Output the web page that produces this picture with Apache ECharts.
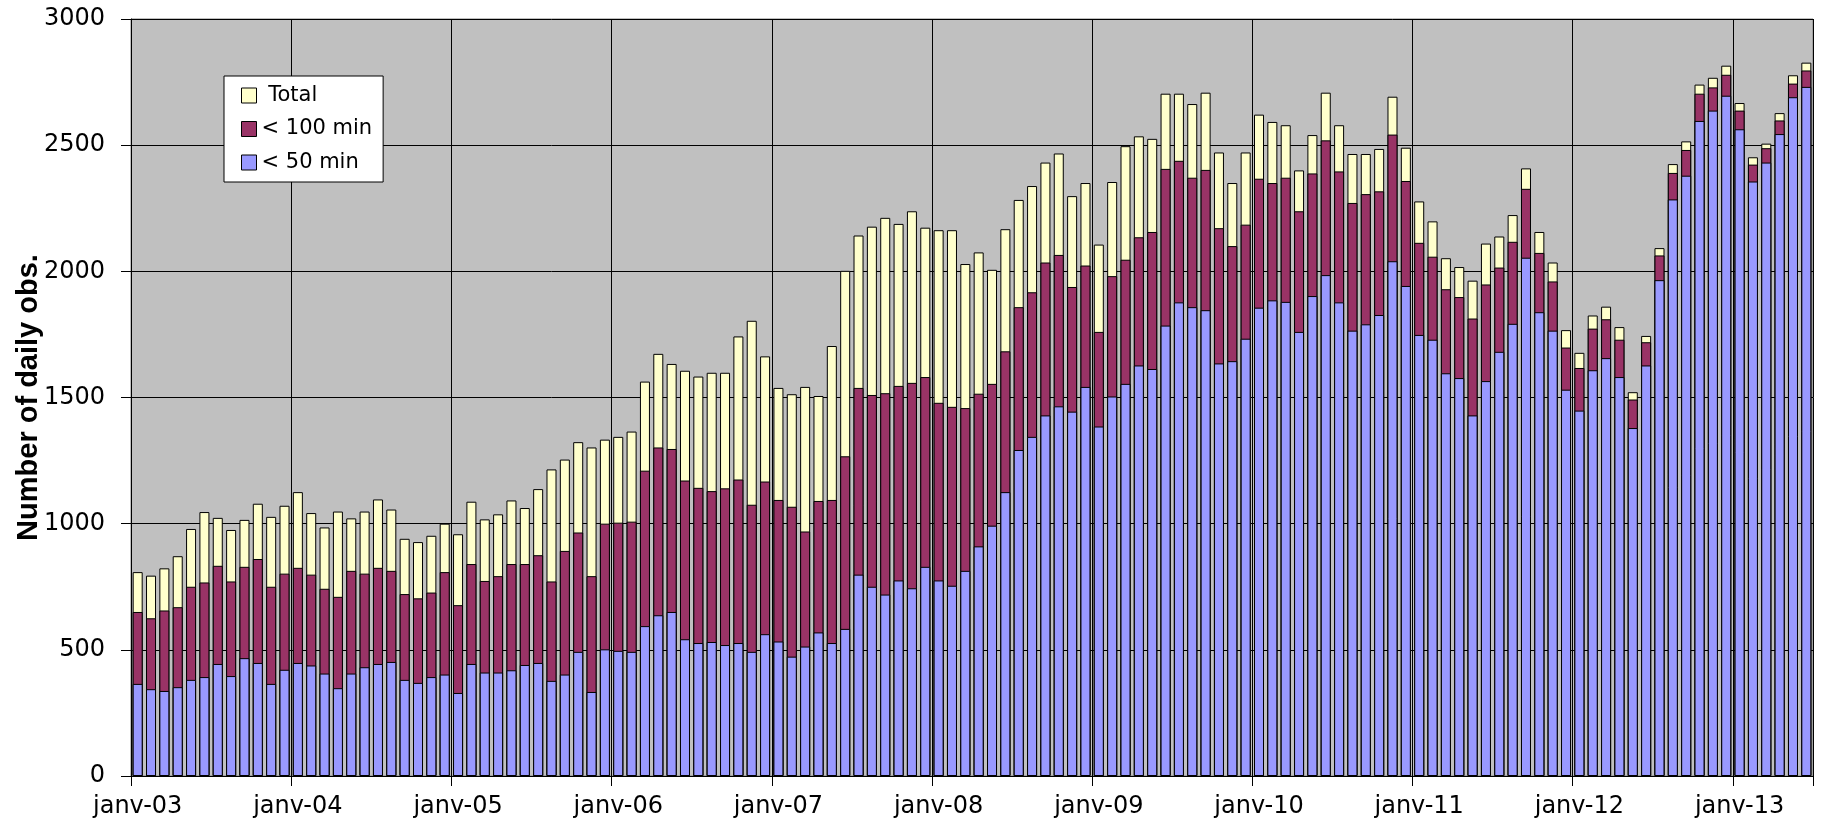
<!DOCTYPE html>
<html>
<head>
<meta charset="utf-8">
<script src="https://cdn.jsdelivr.net/npm/echarts@6/dist/echarts.min.js"></script>
<style>
  html, body { margin: 0; padding: 0; background: #ffffff; }
  #chart { width: 1822px; height: 826px; }
</style>
</head>
<body>
<div id="chart"></div>
<script>
// Month labels (Excel French "mmm-yy")
const monthNames = ['janv', 'févr', 'mars', 'avr', 'mai', 'juin', 'juil', 'août', 'sept', 'oct', 'nov', 'déc'];
const years = ['03', '04', '05', '06', '07', '08', '09', '10', '11', '12', '13'];
const lastYearMonths = 6; // janv-13 .. juin-13

const categories = [];
years.forEach((y, yi) => {
  const n = (yi === years.length - 1) ? lastYearMonths : 12;
  for (let m = 0; m < n; m++) categories.push(monthNames[m] + '-' + y);
});

const seriesNames = ['Total', '< 100 min', '< 50 min'];

const totalObs = [
  808, 794, 823, 871, 979, 1046, 1023, 975, 1015, 1079, 1027, 1071,
  1125, 1042, 985, 1048, 1021, 1048, 1096, 1056, 940, 927, 952, 1000,
  958, 1087, 1017, 1037, 1092, 1062, 1137, 1215, 1254, 1323, 1302, 1333,
  1344, 1365, 1563, 1673, 1633, 1606, 1583, 1598, 1598, 1742, 1804, 1663,
  1538, 1513, 1542, 1506, 1704, 2002, 2142, 2177, 2212, 2188, 2238, 2173,
  2163, 2163, 2029, 2075, 2006, 2167, 2283, 2338, 2431, 2467, 2298, 2350,
  2106, 2354, 2496, 2535, 2525, 2704, 2704, 2663, 2708, 2471, 2350, 2471,
  2621, 2592, 2579, 2400, 2540, 2708, 2579, 2465, 2465, 2485, 2692, 2490,
  2277, 2198, 2052, 2017, 1963, 2110, 2138, 2223, 2408, 2156, 2035, 1767,
  1677, 1825, 1860, 1779, 1521, 1744, 2092, 2425, 2515, 2740, 2767, 2815,
  2667, 2452, 2506, 2627, 2777, 2827
];

const under100 = [
  650, 625, 656, 669, 750, 767, 833, 771, 829, 860, 750, 802,
  825, 798, 742, 710, 813, 802, 825, 813, 721, 704, 727, 808,
  677, 840, 773, 792, 840, 840, 875, 771, 892, 965, 792, 1000,
  1004, 1008, 1210, 1302, 1296, 1171, 1142, 1129, 1140, 1175, 1075, 1167,
  1094, 1067, 969, 1090, 1094, 1267, 1538, 1510, 1517, 1546, 1558, 1581,
  1479, 1463, 1458, 1515, 1554, 1683, 1858, 1917, 2035, 2065, 1938, 2023,
  1760, 1981, 2046, 2135, 2156, 2406, 2438, 2371, 2402, 2171, 2100, 2185,
  2367, 2350, 2371, 2238, 2388, 2519, 2396, 2271, 2306, 2317, 2542, 2358,
  2113, 2058, 1929, 1898, 1813, 1948, 2015, 2117, 2327, 2073, 1960, 1698,
  1617, 1773, 1810, 1729, 1492, 1719, 2063, 2390, 2481, 2704, 2729, 2779,
  2637, 2423, 2488, 2598, 2744, 2796
];

const under50 = [
  365, 344, 337, 352, 381, 392, 444, 396, 467, 448, 365, 421,
  448, 438, 406, 348, 406, 431, 444, 452, 381, 369, 392, 402,
  329, 444, 410, 410, 419, 440, 448, 377, 402, 492, 333, 502,
  496, 492, 594, 637, 650, 542, 527, 531, 519, 527, 492, 562,
  533, 473, 513, 569, 527, 583, 798, 750, 719, 775, 744, 829,
  775, 754, 813, 910, 992, 1125, 1292, 1344, 1429, 1465, 1444, 1542,
  1385, 1504, 1554, 1627, 1613, 1785, 1877, 1858, 1846, 1635, 1644, 1733,
  1856, 1885, 1879, 1760, 1902, 1985, 1877, 1765, 1790, 1827, 2040, 1942,
  1748, 1729, 1596, 1577, 1429, 1565, 1681, 1792, 2054, 1838, 1765, 1531,
  1448, 1608, 1656, 1581, 1379, 1627, 1965, 2285, 2379, 2596, 2637, 2696,
  2563, 2356, 2431, 2544, 2690, 2731
];

const yTicks = { min: 0, max: 3000, interval: 500 };

const colors = ['#FFFFCC', '#993366', '#9999FF'];
const seriesData = [totalObs, under100, under50];

const chart = echarts.init(document.getElementById('chart'), null, { renderer: 'canvas' });

const option = {
  animation: false,
  backgroundColor: '#ffffff',
  grid: {
    left: 131, right: 9, top: 19, bottom: 50,
    show: true,
    backgroundColor: '#C0C0C0',
    borderColor: '#808080',
    borderWidth: 1,
    containLabel: false,
    outerBoundsMode: 'none'
  },
  legend: {
    orient: 'vertical',
    left: 224, top: 76,
    padding: [9, 11, 9, 17],
    itemGap: 12.5,
    itemWidth: 15, itemHeight: 15,
    icon: 'rect',
    backgroundColor: '#ffffff',
    borderColor: '#000000',
    borderWidth: 1,
    data: seriesNames,
    itemStyle: { borderColor: '#000000', borderWidth: 1 },
    textStyle: { fontFamily: 'DejaVu Sans', fontSize: 21, color: '#000', lineHeight: 21 },
    formatter: function (name) { return name === 'Total' ? ' ' + name : name; },
    selectedMode: false
  },
  xAxis: {
    type: 'category',
    data: categories,
    boundaryGap: true,
    axisLine: { show: true, lineStyle: { color: '#000', width: 1 } },
    axisTick: { show: true, interval: 11, length: 10, lineStyle: { color: '#000' } },
    axisLabel: {
      interval: 11, margin: 19, color: '#000',
      fontFamily: 'DejaVu Sans', fontSize: 24
    },
    splitLine: { show: true, interval: 11, lineStyle: { color: '#000', width: 1 } }
  },
  yAxis: {
    type: 'value',
    min: yTicks.min, max: yTicks.max, interval: yTicks.interval,
    name: 'Number of daily obs.',
    nameLocation: 'middle',
    nameRotate: 90,
    nameGap: 88,
    nameMoveOverlap: false,
    nameTextStyle: { fontFamily: 'Liberation Sans', fontWeight: 'bold', fontSize: 29, color: '#000' },
    axisLine: { show: true, lineStyle: { color: '#000', width: 1 } },
    axisTick: { show: true, length: 10, lineStyle: { color: '#000' } },
    axisLabel: {
      margin: 26, color: '#000', fontFamily: 'DejaVu Sans', fontSize: 24,
      formatter: function (v) { return String(v); }
    },
    splitLine: { show: true, lineStyle: { color: '#000', width: 1 } }
  },
  series: seriesNames.map((name, i) => ({
    name: name,
    type: 'bar',
    data: seriesData[i],
    barGap: '-100%',
    barCategoryGap: '25%',
    itemStyle: { color: colors[i], borderColor: '#000000', borderWidth: 1 },
    emphasis: { disabled: true }
  }))
};

chart.setOption(option);
</script>
</body>
</html>
